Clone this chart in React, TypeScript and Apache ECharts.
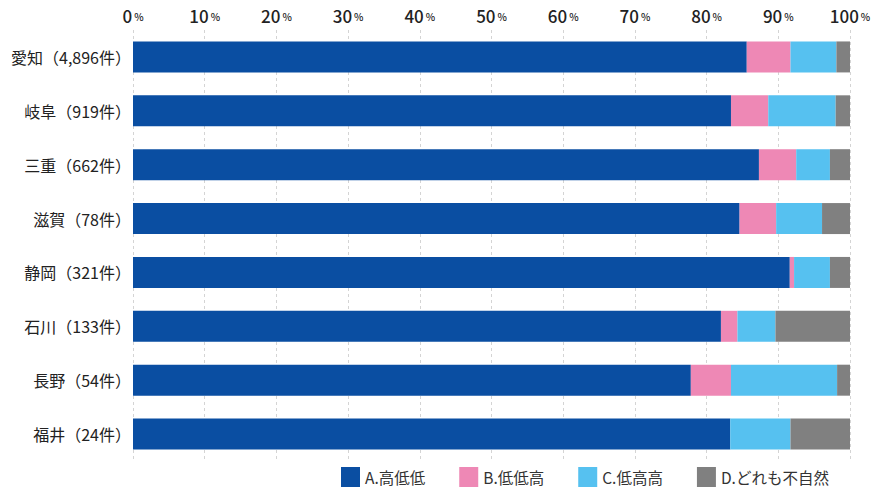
import React, { useEffect, useRef } from "react";
import * as echarts from "echarts";

const categories = [
  "愛知（4,896件）",
  "岐阜（919件）",
  "三重（662件）",
  "滋賀（78件）",
  "静岡（321件）",
  "石川（133件）",
  "長野（54件）",
  "福井（24件）",
];
const seriesNames = ["A.高低低", "B.低低高", "C.低高高", "D.どれも不自然"];
const seriesA = [85.6, 83.4, 87.3, 84.6, 91.6, 82.0, 77.8, 83.3];
const seriesB = [6.1, 5.2, 5.2, 5.1, 0.6, 2.3, 5.6, 0.0];
const seriesC = [6.4, 9.4, 4.7, 6.4, 5.0, 5.3, 14.8, 8.4];
const seriesD = [1.9, 2.0, 2.8, 3.9, 2.8, 10.4, 1.8, 8.3];
const colors = ["#0a4ea2", "#ee88b5", "#56c1f0", "#808080"];

const FONT = "'Noto Sans CJK JP', 'Noto Sans', sans-serif";

export default function App() {
  const ref = useRef<HTMLDivElement>(null);
  useEffect(() => {
    if (!ref.current) return;
    const chart = echarts.init(ref.current, undefined, { renderer: "svg" });
    const data = [seriesA, seriesB, seriesC, seriesD];
    chart.setOption({
      animation: false,
      textStyle: { fontFamily: FONT },
      grid: { left: 133, right: 30, top: 30, height: 431, containLabel: false },
      legend: {
        left: 341,
        top: 467,
        itemWidth: 19,
        itemHeight: 20,
        itemGap: 34,
        padding: 0,
        icon: "rect",
        textStyle: { fontSize: 15.5, color: "#333", fontFamily: FONT },
        data: seriesNames,
      },
      xAxis: {
        type: "value",
        position: "top",
        min: 0,
        max: 100,
        interval: 10,
        axisLine: { show: false },
        axisTick: { show: false },
        splitLine: {
          show: true,
          lineStyle: { color: "#d4d4d4", type: [3, 3], width: 1 },
        },
        axisLabel: {
          margin: 4,
          formatter: (v: number) => `{n|${v}}{p|%}`,
          rich: {
            n: { fontSize: 17, fontWeight: 500, color: "#222", fontFamily: FONT, lineHeight: 22 },
            p: { fontSize: 10, fontWeight: 500, color: "#222", fontFamily: FONT, lineHeight: 22, padding: [3, 0, 0, 2] },
          },
        },
      },
      yAxis: {
        type: "category",
        inverse: true,
        data: categories,
        axisLine: { show: false },
        axisTick: { show: false },
        axisLabel: { fontSize: 16, color: "#222", margin: 2, fontFamily: FONT },
      },
      series: seriesNames.map((name, i) => ({
        name,
        type: "bar",
        stack: "total",
        barWidth: 31,
        itemStyle: { color: colors[i] },
        data: data[i],
      })),
    });
    return () => chart.dispose();
  }, []);
  return (
    <div
      ref={ref}
      style={{ position: "absolute", left: 0, top: 0, width: 880, height: 502 }}
    />
  );
}
